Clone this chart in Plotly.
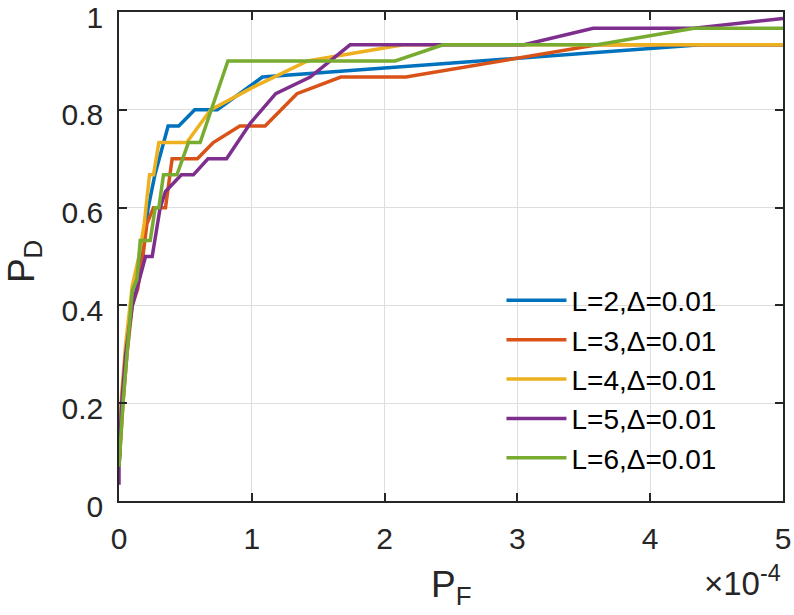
import plotly.graph_objects as go

# P_F values are in units of 1e-4 (axis shows x10^-4)
pf_l2 = [0, 0.02, 0.05, 0.1, 0.15, 0.2, 0.22, 0.27, 0.37, 0.45, 0.57, 0.74, 1.08, 4.38, 5.0]
pd_l2 = [0.07, 0.2, 0.3, 0.43, 0.47, 0.57, 0.6, 0.667, 0.767, 0.767, 0.8, 0.8, 0.867, 0.933, 0.933]

pf_l3 = [0, 0.03, 0.06, 0.1, 0.14, 0.18, 0.21, 0.26, 0.35, 0.4, 0.59, 0.71, 0.91, 1.1, 1.34, 1.67, 2.16, 3.6, 5.0]
pd_l3 = [0.07, 0.2, 0.3, 0.4, 0.433, 0.5, 0.567, 0.6, 0.6, 0.7, 0.7, 0.733, 0.767, 0.767, 0.833, 0.867, 0.867, 0.933, 0.933]

pf_l4 = [0, 0.02, 0.05, 0.1, 0.15, 0.19, 0.23, 0.26, 0.3, 0.51, 0.69, 1.0, 1.42, 2.14, 5.0]
pd_l4 = [0.07, 0.22, 0.32, 0.44, 0.5, 0.567, 0.667, 0.667, 0.733, 0.733, 0.8, 0.845, 0.9, 0.933, 0.933]

pf_l5 = [0, 0, 0.02, 0.05, 0.1, 0.15, 0.2, 0.25, 0.27, 0.31, 0.35, 0.47, 0.56, 0.67, 0.81, 0.99, 1.18, 1.44, 1.74, 3.05, 3.57, 4.33, 5.0]
pd_l5 = [0.033, 0.067, 0.2, 0.3, 0.4, 0.45, 0.5, 0.5, 0.533, 0.6, 0.633, 0.667, 0.667, 0.7, 0.7, 0.773, 0.833, 0.867, 0.933, 0.933, 0.967, 0.967, 0.987]

pf_l6 = [0, 0.03, 0.06, 0.1, 0.135, 0.16, 0.235, 0.273, 0.3, 0.335, 0.436, 0.523, 0.611, 0.82, 2.08, 2.44, 3.6, 4.33, 5.0]
pd_l6 = [0.07, 0.2, 0.3, 0.43, 0.453, 0.533, 0.533, 0.6, 0.6, 0.667, 0.667, 0.733, 0.733, 0.9, 0.9, 0.933, 0.933, 0.967, 0.967]

labels = ["L=2,Δ=0.01", "L=3,Δ=0.01", "L=4,Δ=0.01", "L=5,Δ=0.01", "L=6,Δ=0.01"]
colors = ["#0072BD", "#D95319", "#EDB120", "#7E2F8E", "#77AC30"]

x_ticks = [0, 1, 2, 3, 4, 5]
y_ticks = [0, 0.2, 0.4, 0.6, 0.8, 1]
y_ticktext = ["0", "0.2", "0.4", "0.6", "0.8", "1"]

series = [(pf_l2, pd_l2), (pf_l3, pd_l3), (pf_l4, pd_l4), (pf_l5, pd_l5), (pf_l6, pd_l6)]

fig = go.Figure()
for (x, y), name, c in zip(series, labels, colors):
    fig.add_trace(go.Scatter(x=x, y=y, mode="lines", name=name,
                             line=dict(color=c, width=3.5)))

axis_style = dict(
    showline=True, linecolor="#262626", linewidth=1.5, mirror="ticks",
    ticks="inside", ticklen=8, tickcolor="#262626", tickwidth=1.5,
    showgrid=True, gridcolor="#dedede", gridwidth=1, zeroline=False,
    automargin=False, ticklabeloverflow="allow",
    tickfont=dict(family="Liberation Sans, Arial", size=30, color="#262626"),
)

fig.update_xaxes(range=[0, 5], tickvals=x_ticks, ticklabelstandoff=10, **axis_style)
fig.update_yaxes(range=[0, 1.0001], tickvals=y_ticks, ticktext=y_ticktext,
                 ticklabelstandoff=8, ticklabelshift=5, **axis_style)

fig.update_layout(
    width=794, height=615,
    margin=dict(l=119, r=11, t=12, b=114),
    plot_bgcolor="white", paper_bgcolor="white",
    font=dict(family="Liberation Sans, Arial", color="#262626"),
    legend=dict(x=0.576, y=0.461, xanchor="left", yanchor="top",
                bgcolor="rgba(0,0,0,0)", itemwidth=60,
                font=dict(size=28, color="black"), tracegroupgap=0),
    annotations=[
        dict(text="P<sub>F</sub>", x=0.5, y=-0.175, xref="paper", yref="paper",
             showarrow=False, font=dict(size=37), xanchor="center", yanchor="middle"),
        dict(text="P<sub>D</sub>", x=-0.142, y=0.49, xref="paper", yref="paper",
             showarrow=False, font=dict(size=37), textangle=-90,
             xanchor="center", yanchor="middle"),
        dict(text="×10<sup>-4</sup>", x=1.0, y=-0.163, xref="paper", yref="paper",
             showarrow=False, font=dict(size=33), xanchor="right", yanchor="middle"),
    ],
)

# drop the default body margin so the figure sits at the page corner
fig.write_html("out.html", config={"displayModeBar": False},
               post_script="document.body.style.margin = '0';")
